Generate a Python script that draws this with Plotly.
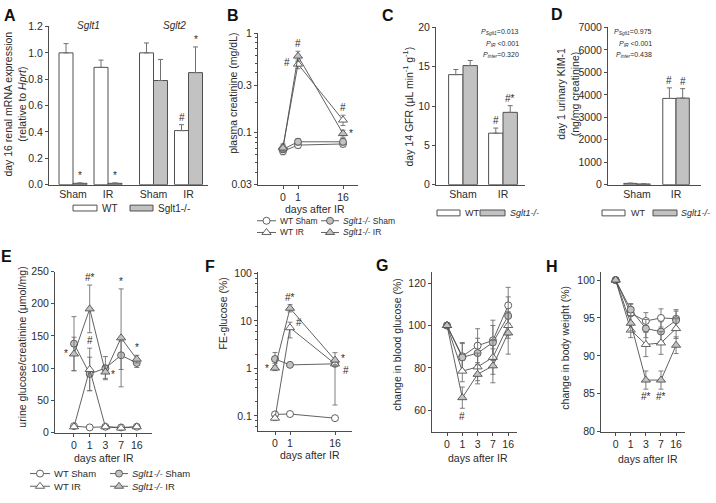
import math
import plotly.graph_objects as go

W, H = 716, 503
FONT = "Liberation Sans, Arial, Helvetica, sans-serif"
TXT = "#2b2b2b"
AXC = "#4d4d4d"
EDGE = "#505050"
ERRC = "#707070"
KOFILL = "#c2c2c2"
WTFILL = "#ffffff"

# ---------------- data ----------------
# A: day-16 renal mRNA expression (relative to Hprt)
a_genes = ["Sglt1", "Sglt2"]
a_groups = ["Sham", "IR", "Sham", "IR"]
a_wt = [1.00, 0.89, 1.00, 0.41]
a_wt_err = [0.07, 0.055, 0.075, 0.045]
a_ko = [0.01, 0.01, 0.79, 0.85]
a_ko_err = [0.003, 0.003, 0.16, 0.195]
a_wt_sig = ["", "", "", "#"]
a_ko_sig = ["*", "*", "", "*"]

# B: plasma creatinine (mg/dL)
b_days = ["0", "1", "16"]
b_wt_sham = [0.065, 0.075, 0.077]
b_wt_sham_err = [0.005, 0.005, 0.005]
b_ko_sham = [0.068, 0.081, 0.081]
b_ko_sham_err = [0.005, 0.006, 0.006]
b_wt_ir = [0.072, 0.49, 0.134]
b_wt_ir_err = [0.005, 0.05, 0.016]
b_ko_ir = [0.070, 0.59, 0.098]
b_ko_ir_err = [0.005, 0.07, 0.008]

# C: day 14 GFR
c_groups = ["Sham", "IR"]
c_wt = [14.0, 6.55]
c_wt_err = [0.65, 0.65]
c_ko = [15.15, 9.2]
c_ko_err = [0.65, 0.85]
c_wt_sig = ["", "#"]
c_ko_sig = ["", "#*"]
c_p = ["=0.013", " &lt;0.001", "=0.320"]

# D: day 1 urinary KIM-1
d_groups = ["Sham", "IR"]
d_wt = [55, 3840]
d_wt_err = [15, 470]
d_ko = [30, 3855]
d_ko_err = [10, 420]
d_wt_sig = ["", "#"]
d_ko_sig = ["", "#"]
d_p = ["=0.975", " &lt;0.001", "=0.438"]

# E: urine glucose/creatinine
e_days = ["0", "1", "3", "7", "16"]
e_wt_sham = [10, 8, 9, 8, 9]
e_wt_sham_err = [1, 1, 1, 1, 1]
e_ko_sham = [138, 91, 100, 120, 108]
e_ko_sham_err = [42, 26, 18, 22, 7]
e_wt_ir = [9, 98, 9, 7, 9]
e_wt_ir_err = [1, 33, 1, 1, 1]
e_ko_ir = [122, 192, 94, 147, 114]
e_ko_ir_err = [26, 37, 10, 76, 6]

# F: FE-glucose (%)
f_days = ["0", "1", "16"]
f_wt_sham = [0.108, 0.11, 0.09]
f_wt_sham_up = [0.01, 0.01, 0.008]
f_wt_sham_dn = [0.01, 0.01, 0.008]
f_ko_sham = [1.58, 1.19, 1.25]
f_ko_sham_up = [0.58, 0.08, 0.15]
f_ko_sham_dn = [0.3, 0.08, 0.15]
f_wt_ir = [0.09, 7.2, 1.25]
f_wt_ir_up = [0.01, 2.2, 0.3]
f_wt_ir_dn = [0.01, 2.8, 1.08]
f_ko_ir = [1.02, 18.5, 1.5]
f_ko_ir_up = [0.12, 3.5, 0.65]
f_ko_ir_dn = [0.12, 3.0, 0.3]

# G: change in blood glucose (%)
g_days = ["0", "1", "3", "7", "16"]
g_wt_sham = [100, 85.5, 90.5, 93, 109.5]
g_wt_sham_err = [0, 6.5, 8, 9.5, 8.5]
g_ko_sham = [100, 85, 87, 92, 104.5]
g_ko_sham_err = [0, 6.5, 7, 8, 9]
g_wt_ir = [100, 78.5, 80.5, 85, 100]
g_wt_ir_err = [0, 5, 6.5, 8, 6]
g_ko_ir = [100, 66, 77, 81, 96.5]
g_ko_ir_err = [0, 5, 4.5, 8, 10]

# H: change in body weight (%)
h_days = ["0", "1", "3", "7", "16"]
h_wt_sham = [100, 95.6, 94.6, 95.0, 94.9]
h_wt_sham_err = [0, 1.2, 1.1, 1.2, 1.2]
h_ko_sham = [100, 96.1, 93.6, 93.2, 94.7]
h_ko_sham_err = [0, 0.8, 1.2, 1.3, 1.2]
h_wt_ir = [100, 93.4, 91.5, 91.7, 93.6]
h_wt_ir_err = [0, 1.0, 1.6, 1.5, 1.3]
h_ko_ir = [100, 94.3, 86.8, 86.8, 91.4]
h_ko_ir_err = [0, 1.0, 1.2, 1.2, 1.1]

# ---------------- layout geometry (pixels) ----------------
boxes = {
    1: (49, 208, 21, 183),   # A
    2: (258, 358, 28, 183),  # B
    3: (436, 525, 22, 183),  # C
    4: (608, 701, 22, 183),  # D
    5: (55, 152, 272, 437),  # E
    6: (258, 352, 272, 435), # F
    7: (432, 517, 273, 436), # G
    8: (601, 685, 273, 436), # H
}
xranges = {1: [-0.686, 3.857], 2: [-1.667, 5], 3: [-0.675, 1.55], 4: [-0.744, 1.64],
           5: [-1.21, 4.97], 6: [-1.133, 5.133], 7: [-0.98, 4.575], 8: [-0.97, 4.59]}
yranges = {1: [0, 1.2], 2: [math.log10(0.03), 0], 3: [0, 20], 4: [0, 7000],
           5: [0, 250], 6: [-1.308, 2.04], 7: [50, 125], 8: [80, 101]}
slots3 = [0, 1, 4]          # tick slots for days 0, 1, 16
slots5 = [0, 1, 2, 3, 4]    # tick slots for days 0, 1, 3, 7, 16
a_centers = [0, 1, 2.3, 3.3]
cd_centers = [0, 1]

STYLE = {
    "wt_sham": ("circle", WTFILL, 7),
    "ko_sham": ("circle", KOFILL, 7),
    "wt_ir": ("triangle-up", WTFILL, 8),
    "ko_ir": ("triangle-up", KOFILL, 8),
}

fig = go.Figure()
annotations = []
shapes = []


def xr(i):
    return "x" if i == 1 else f"x{i}"


def yr(i):
    return "y" if i == 1 else f"y{i}"


def xkey(i):
    return "xaxis" if i == 1 else f"xaxis{i}"


def ykey(i):
    return "yaxis" if i == 1 else f"yaxis{i}"


def base_axis(**kw):
    d = dict(showline=True, linecolor=AXC, linewidth=1, ticks="outside", ticklen=3,
             tickwidth=1, tickcolor=AXC, showgrid=False, zeroline=False,
             tickfont=dict(family=FONT, size=10.5, color=TXT), fixedrange=True)
    d.update(kw)
    return d


layout_axes = {}
for i, b in boxes.items():
    x0, x1, y0, y1 = b
    layout_axes[xkey(i)] = base_axis(domain=[x0 / W, x1 / W], range=xranges[i], anchor=yr(i))
    layout_axes[ykey(i)] = base_axis(domain=[1 - y1 / H, 1 - y0 / H], range=yranges[i], anchor=xr(i))

# bar x axes
layout_axes[xkey(1)].update(ticks="", tickmode="array", tickvals=a_centers, ticktext=a_groups)
layout_axes[xkey(3)].update(ticks="", tickmode="array", tickvals=cd_centers, ticktext=c_groups)
layout_axes[xkey(4)].update(ticks="", tickmode="array", tickvals=cd_centers, ticktext=d_groups)
layout_axes[ykey(1)].update(tickmode="array", tickvals=[0, 0.2, 0.4, 0.6, 0.8, 1.0, 1.2],
                            ticktext=["0.0", "0.2", "0.4", "0.6", "0.8", "1.0", "1.2"])
layout_axes[ykey(3)].update(tickmode="array", tickvals=[0, 5, 10, 15, 20])
layout_axes[ykey(4)].update(tickmode="array", tickvals=[0, 1000, 2000, 3000, 4000, 5000, 6000, 7000])
# line x axes
layout_axes[xkey(2)].update(tickmode="array", tickvals=slots3, ticktext=b_days)
layout_axes[xkey(6)].update(tickmode="array", tickvals=slots3, ticktext=f_days)
for i, days in [(5, e_days), (7, g_days), (8, h_days)]:
    layout_axes[xkey(i)].update(tickmode="array", tickvals=slots5, ticktext=days)
layout_axes[ykey(2)].update(type="log", tickmode="array", tickvals=[0.03, 0.1, 0.3, 1],
                            ticktext=["0.03", "0.1", "0.3", "1"],
                            minor=dict(ticks="outside", ticklen=2, tickcolor=AXC, tickmode="array",
                                       tickvals=[0.04, 0.05, 0.06, 0.07, 0.08, 0.09, 0.2, 0.4, 0.5,
                                                 0.6, 0.7, 0.8, 0.9]))
layout_axes[ykey(6)].update(type="log", tickmode="array", tickvals=[0.1, 1, 10, 100],
                            ticktext=["0.1", "1", "10", "100"],
                            minor=dict(ticks="outside", ticklen=2, tickcolor=AXC, tickmode="array",
                                       tickvals=[0.06, 0.08, 0.2, 0.4, 0.6, 0.8, 2, 4, 6, 8,
                                                 20, 40, 60, 80]))
layout_axes[ykey(5)].update(tickmode="array", tickvals=[0, 50, 100, 150, 200, 250])
layout_axes[ykey(7)].update(tickmode="array", tickvals=[60, 80, 100, 120])
layout_axes[ykey(8)].update(tickmode="array", tickvals=[80, 85, 90, 95, 100])

# overlay pixel axis for legends / labels
layout_axes["xaxis9"] = dict(domain=[0, 1], range=[0, W], visible=False, fixedrange=True, anchor="y9")
layout_axes["yaxis9"] = dict(domain=[0, 1], range=[H, 0], visible=False, fixedrange=True, anchor="x9")


def sig_font():
    return dict(family=FONT, size=10, color=TXT)


def bar_panel(i, centers, wt, wt_err, ko, ko_err, off, width, wt_sig, ko_sig):
    for vals, errs, fill, sgn, sig in [(wt, wt_err, WTFILL, -1, wt_sig), (ko, ko_err, KOFILL, 1, ko_sig)]:
        xs = [c + sgn * off for c in centers]
        fig.add_trace(go.Bar(
            x=xs, y=vals, width=width,
            marker=dict(color=fill, line=dict(color=EDGE, width=1)),
            error_y=dict(type="data", symmetric=False, array=errs, arrayminus=[0] * len(errs),
                         color=ERRC, thickness=1, width=2.5),
            xaxis=xr(i), yaxis=yr(i), hoverinfo="skip"))
        for x, v, e, s in zip(xs, vals, errs, sig):
            if s:
                annotations.append(dict(x=x, y=v + e, xref=xr(i), yref=yr(i), text=s, showarrow=False,
                                        yanchor="bottom", xanchor="center", font=sig_font()))


def line_panel(i, xpos, series, sigs, log=False):
    data = {}
    for key, vals, up, dn in series:
        sym, fill, size = STYLE[key]
        data[key] = (vals, up, dn)
        fig.add_trace(go.Scatter(
            x=xpos, y=vals, mode="lines+markers", cliponaxis=False,
            line=dict(color=EDGE, width=0.9),
            marker=dict(symbol=sym, size=size, color=fill, line=dict(color=EDGE, width=0.9)),
            error_y=dict(type="data", symmetric=False, array=up, arrayminus=dn,
                         color=ERRC, thickness=0.9, width=2.5),
            xaxis=xr(i), yaxis=yr(i), hoverinfo="skip"))
    tf = (lambda v: math.log10(v)) if log else (lambda v: v)
    for key, idx, text, where, dx, dy in sigs:
        vals, up, dn = data[key]
        a = dict(x=xpos[idx], xref=xr(i), yref=yr(i), text=text, showarrow=False, font=sig_font(),
                 xshift=dx, yshift=dy)
        if where == "above":
            a.update(y=tf(vals[idx] + up[idx]), yanchor="bottom", xanchor="center")
        elif where == "below":
            a.update(y=tf(vals[idx] - dn[idx]), yanchor="top", xanchor="center")
        elif where == "left":
            a.update(y=tf(vals[idx]), yanchor="middle", xanchor="right", xshift=dx - 4)
        else:
            a.update(y=tf(vals[idx]), yanchor="middle", xanchor="left", xshift=dx + 4)
        annotations.append(a)


# ---- A ----
bar_panel(1, a_centers, a_wt, a_wt_err, a_ko, a_ko_err, 0.2, 0.4, a_wt_sig, a_ko_sig)
# ---- C ----
bar_panel(3, cd_centers, c_wt, c_wt_err, c_ko, c_ko_err, 0.18, 0.36, c_wt_sig, c_ko_sig)
# ---- D ----
bar_panel(4, cd_centers, d_wt, d_wt_err, d_ko, d_ko_err, 0.17, 0.34, d_wt_sig, d_ko_sig)

# ---- B ----
line_panel(2, slots3, [
    ("wt_sham", b_wt_sham, b_wt_sham_err, b_wt_sham_err),
    ("ko_sham", b_ko_sham, b_ko_sham_err, b_ko_sham_err),
    ("wt_ir", b_wt_ir, b_wt_ir_err, b_wt_ir_err),
    ("ko_ir", b_ko_ir, b_ko_ir_err, b_ko_ir_err),
], [
    ("ko_ir", 1, "#", "above", 0, 0),
    ("wt_ir", 1, "#", "left", -2, 2),
    ("wt_ir", 2, "#", "above", 0, 0),
    ("ko_ir", 2, "*", "right", 0, 0),
], log=True)

# ---- E ----
line_panel(5, slots5, [
    ("wt_sham", e_wt_sham, e_wt_sham_err, e_wt_sham_err),
    ("ko_sham", e_ko_sham, e_ko_sham_err, e_ko_sham_err),
    ("wt_ir", e_wt_ir, e_wt_ir_err, e_wt_ir_err),
    ("ko_ir", e_ko_ir, e_ko_ir_err, e_ko_ir_err),
], [
    ("ko_ir", 0, "*", "left", 0, 0),
    ("ko_ir", 1, "#*", "above", 0, 0),
    ("wt_ir", 1, "#", "above", 0, 0),
    ("ko_ir", 2, "*", "right", 0, -2),
    ("ko_ir", 3, "*", "above", 0, 0),
    ("ko_ir", 4, "*", "above", 0, 0),
])

# ---- F ----
line_panel(6, slots3, [
    ("wt_sham", f_wt_sham, f_wt_sham_up, f_wt_sham_dn),
    ("ko_sham", f_ko_sham, f_ko_sham_up, f_ko_sham_dn),
    ("wt_ir", f_wt_ir, f_wt_ir_up, f_wt_ir_dn),
    ("ko_ir", f_ko_ir, f_ko_ir_up, f_ko_ir_dn),
], [
    ("ko_ir", 0, "*", "left", 0, 0),
    ("ko_ir", 1, "#*", "above", 0, 0),
    ("wt_ir", 1, "#", "right", 0, 5),
    ("ko_ir", 2, "*", "right", 0, 2),
    ("wt_ir", 2, "#", "right", 2, -7),
], log=True)

# ---- G ----
line_panel(7, slots5, [
    ("wt_sham", g_wt_sham, g_wt_sham_err, g_wt_sham_err),
    ("ko_sham", g_ko_sham, g_ko_sham_err, g_ko_sham_err),
    ("wt_ir", g_wt_ir, g_wt_ir_err, g_wt_ir_err),
    ("ko_ir", g_ko_ir, g_ko_ir_err, g_ko_ir_err),
], [
    ("ko_ir", 1, "#", "below", 0, -1),
])

# ---- H ----
line_panel(8, slots5, [
    ("wt_sham", h_wt_sham, h_wt_sham_err, h_wt_sham_err),
    ("ko_sham", h_ko_sham, h_ko_sham_err, h_ko_sham_err),
    ("wt_ir", h_wt_ir, h_wt_ir_err, h_wt_ir_err),
    ("ko_ir", h_ko_ir, h_ko_ir_err, h_ko_ir_err),
], [
    ("ko_ir", 2, "#*", "below", 0, 0),
    ("ko_ir", 3, "#*", "below", 0, 0),
])


# ---------------- text in pixel space ----------------
def ptext(x, y, text, size=10.5, xanchor="center", yanchor="middle", angle=0, bold=False, pad=1):
    annotations.append(dict(x=x, y=y, xref="x9", yref="y9", text=text, showarrow=False,
                            xanchor=xanchor, yanchor=yanchor, textangle=angle, align="center",
                            borderpad=pad,
                            font=dict(family=FONT, size=size, color="#111111" if bold else TXT)))


# panel letters
for letter, (lx, ly) in {"A": (10, 10), "B": (233, 10), "C": (388, 10), "D": (557, 9),
                         "E": (6, 257), "F": (210, 267), "G": (382, 266), "H": (552, 267)}.items():
    ptext(lx, ly, f"<b>{letter}</b>", size=16, bold=True)

# gene labels in A
ptext(88, 20, f"<i>{a_genes[0]}</i>", size=10)
ptext(174, 20, f"<i>{a_genes[1]}</i>", size=10)

# y-axis titles
ptext(15, 101, "day 16 renal mRNA expression<br>(relative to <i>Hprt</i>)", angle=-90)
ptext(233, 90, "plasma creatinine (mg/dL)", angle=-90)
ptext(408, 103, "day 14 GFR (μL min<sup>-1</sup> g<sup>-1</sup>)", angle=-90)
ptext(568, 90, "day 1 urinary KIM-1<br>(ng/mg creatinine)", angle=-90)
ptext(22, 350, "urine glucose/creatinine (μmol/mg)", angle=-90)
ptext(223, 315, "FE-glucose (%)", angle=-90)
ptext(397, 347, "change in blood glucose (%)", angle=-90)
ptext(565, 350, "change in body weight (%)", angle=-90)

# x-axis titles
ptext(315, 208, "days after IR", pad=0)
ptext(104, 463, "days after IR")
ptext(310, 460, "days after IR")
ptext(478, 463, "days after IR")
ptext(648, 464, "days after IR")

# P values
p_names = ["Sglt1", "IR", "inter"]
for px, py0, pv in [(520, 27, c_p), (653, 27, d_p)]:
    for k, (nm, val) in enumerate(zip(p_names, pv)):
        ptext(px, py0 + 11.5 * k, f"<i>P</i><sub><i>{nm}</i></sub>{val}", size=7, xanchor="right", pad=0)


# bar legends
def rect_key(x0, x1, yc, fill):
    shapes.append(dict(type="rect", xref="x9", yref="y9", x0=x0, x1=x1, y0=yc - 3, y1=yc + 3,
                       fillcolor=fill, line=dict(color=EDGE, width=1)))


rect_key(73, 97, 207, WTFILL); ptext(100, 207, "WT", size=10, xanchor="left")
rect_key(130, 153, 207, KOFILL); ptext(156, 207, "Sglt1-/-", size=10, xanchor="left")
rect_key(437, 460, 212, WTFILL); ptext(463, 212, "WT", size=9, xanchor="left")
rect_key(480, 505, 212, KOFILL); ptext(508, 212, "<i>Sglt1-/-</i>", size=9, xanchor="left")
rect_key(602, 625, 212, WTFILL); ptext(629, 212, "WT", size=9, xanchor="left")
rect_key(653, 677, 212, KOFILL); ptext(680, 212, "<i>Sglt1-/-</i>", size=9, xanchor="left", pad=0)


# line legends
def line_key(x0, x1, yc, key, label, size):
    sym, fill, msize = STYLE[key]
    fig.add_trace(go.Scatter(x=[x0, x1], y=[yc, yc], mode="lines", line=dict(color=EDGE, width=0.9),
                             xaxis="x9", yaxis="y9", hoverinfo="skip"))
    fig.add_trace(go.Scatter(x=[(x0 + x1) / 2], y=[yc], mode="markers",
                             marker=dict(symbol=sym, size=msize, color=fill, line=dict(color=EDGE, width=0.9)),
                             xaxis="x9", yaxis="y9", hoverinfo="skip"))
    ptext(x1 + 3, yc, label, size=size, xanchor="left", pad=0)


for (lx0, lx1, lx2, lx3, r1, r2, fs) in [(257, 276, 321, 339, 220, 232, 8.5),
                                         (30, 50, 110, 128, 479, 492, 9.5)]:
    line_key(lx0, lx1, r1, "wt_sham", "WT Sham", fs)
    line_key(lx2, lx3, r1, "ko_sham", "<i>Sglt1-/-</i> Sham", fs)
    line_key(lx0, lx1, r2, "wt_ir", "WT IR", fs)
    line_key(lx2, lx3, r2, "ko_ir", "<i>Sglt1-/-</i> IR", fs)

fig.update_layout(
    width=W, height=H, margin=dict(l=0, r=0, t=0, b=0),
    paper_bgcolor="white", plot_bgcolor="rgba(0,0,0,0)", showlegend=False, barmode="overlay",
    font=dict(family=FONT, size=10.5, color=TXT), hovermode=False,
    annotations=annotations, shapes=shapes, **layout_axes,
)

fig.write_html("out.html",
               config={"displayModeBar": False, "staticPlot": True},
               post_script="document.body.style.margin='0';document.body.style.overflow='hidden';")
